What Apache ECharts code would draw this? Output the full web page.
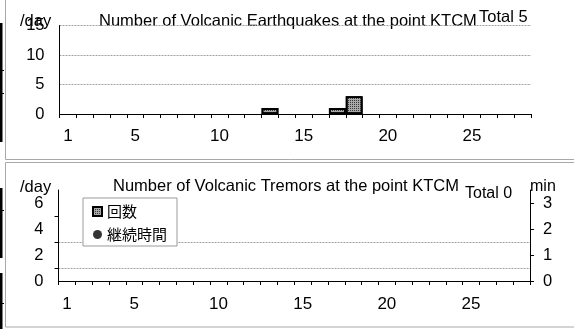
<!DOCTYPE html>
<html><head><meta charset="utf-8">
<script src="https://cdn.jsdelivr.net/npm/echarts@6/dist/echarts.min.js"></script>
<style>html,body{margin:0;padding:0;background:#fff}#c{width:574px;height:329px}</style>
</head><body><div id="c"></div>
<script>
// ---- data ----
const days = ['1','2','3','4','5','6','7','8','9','10','11','12','13','14','15','16','17','18','19','20','21','22','23','24','25','26','27','28'];
const dayLabels = ['1','5','10','15','20','25'];
const quakeCounts = [0,0,0,0,0,0,0,0,0,0,0,0,1,0,0,0,1,3,0,0,0,0,0,0,0,0,0,0];
const tremorCounts = [0,0,0,0,0,0,0,0,0,0,0,0,0,0,0,0,0,0,0,0,0,0,0,0,0,0,0,0];
const tremorMinutes = [null,null,null,null,null,null,null,null,null,null,null,null,null,null,null,null,null,null,null,null,null,null,null,null,null,null,null,null];
const quakeAxisTicks = [0,5,10,15];
const tremorAxisLabels = [0,2,4,6];
const tremorAxisMinor = [1,3,5];
const minuteAxisLabels = [0,1,2,3];
const quakeTitle = 'Number of Volcanic Earthquakes at the point KTCM';
const tremorTitle = 'Number of Volcanic Tremors at the point KTCM';
const quakeTotal = 'Total 5';
const tremorTotal = 'Total 0';

// ---- styling ----
const FF = "'Liberation Sans', Arial, 'Noto Sans CJK JP', sans-serif";
const CJK = "'Noto Sans CJK JP', 'Liberation Sans', sans-serif";
const DECAL = {symbol:'rect', symbolSize:1, color:'#3a3a3a', dashArrayX:[1,1], dashArrayY:[1,1], rotation:0};
const barStyle = {color:'#a8a8a8', borderColor:'#000', borderWidth:1.8, decal:DECAL};
const gridLine = {show:true, lineStyle:{color:'#a0a0a0', width:1, type:[2,1]}};

function xAx(gi, margin){
  return {type:'category', gridIndex:gi, data:days, boundaryGap:true,
    axisLine:{show:true, lineStyle:{color:'#000', width:1}},
    axisTick:{show:true, interval:0, length:4, lineStyle:{color:'#000'}},
    axisLabel:{interval:(i,v)=>dayLabels.includes(v), margin:margin, color:'#000', fontSize:17, fontFamily:FF},
    splitLine:{show:false}};
}
const nz = a => a.map(v => v === 0 ? null : v);

const chart = echarts.init(document.getElementById('c'), null, {renderer:'canvas'});
chart.setOption({
  animation:false,
  backgroundColor:'#fff',
  textStyle:{fontFamily:FF, color:'#000'},
  grid:[
    {left:59.5, right:43, top:25.5, bottom:215},
    {left:58.5, right:44, top:190, bottom:48}
  ],
  xAxis:[xAx(0,14), xAx(1,15)],
  yAxis:[
    {type:'value', gridIndex:0, min:quakeAxisTicks[0], max:quakeAxisTicks[3], interval:5,
      axisLine:{show:true, lineStyle:{color:'#000'}}, axisTick:{show:false},
      axisLabel:{margin:15, color:'#000', fontSize:16.5, fontFamily:FF, customValues:quakeAxisTicks},
      splitLine:gridLine},
    {type:'value', gridIndex:1, min:0, max:7, interval:2,
      axisLine:{show:true, lineStyle:{color:'#000'}},
      axisTick:{show:true, length:4, customValues:tremorAxisMinor, lineStyle:{color:'#000'}},
      axisLabel:{margin:15, color:'#000', fontSize:16.5, fontFamily:FF, customValues:tremorAxisLabels},
      splitLine:Object.assign({showMaxLine:false}, gridLine)},
    {type:'value', gridIndex:1, position:'right', min:0, max:3.5, interval:1,
      axisLine:{show:true, lineStyle:{color:'#000'}},
      axisTick:{show:true, length:4, customValues:minuteAxisLabels, lineStyle:{color:'#000'}},
      axisLabel:{margin:13, color:'#000', fontSize:16.5, fontFamily:FF, customValues:minuteAxisLabels},
      splitLine:{show:false}}
  ],
  legend:{
    left:83, top:198, orient:'vertical',
    backgroundColor:'#fff', borderColor:'#9a9a9a', borderWidth:1,
    padding:[6,10,4,9], itemGap:8, itemWidth:9, itemHeight:9,
    textStyle:{fontFamily:CJK, fontSize:15, color:'#000', lineHeight:15},
    data:[{name:'回数', icon:'rect'},
          {name:'継続時間', icon:'path://M5,0A5,5,0,1,1,5,10A5,5,0,1,1,5,0Z'}]
  },
  series:[
    {name:'地震回数', type:'bar', xAxisIndex:0, yAxisIndex:0, data:nz(quakeCounts), barCategoryGap:'0%', itemStyle:barStyle},
    {name:'回数', type:'bar', xAxisIndex:1, yAxisIndex:1, data:nz(tremorCounts), barCategoryGap:'0%', itemStyle:barStyle},
    {name:'継続時間', type:'scatter', xAxisIndex:1, yAxisIndex:2, data:tremorMinutes, symbol:'circle', symbolSize:9,
      itemStyle:{color:'#000'}}
  ],
  graphic:[
    // panel frames
    {type:'rect', silent:true, z:-1, shape:{x:5.5, y:-5, width:620, height:164.5}, style:{fill:null, stroke:'#a8a8a8', lineWidth:1}},
    {type:'rect', silent:true, z:-1, shape:{x:5.5, y:162.5, width:620, height:164.5}, style:{fill:null, stroke:'#a8a8a8', lineWidth:1}},
    // left-edge marks
    {type:'rect', silent:true, shape:{x:0, y:23, width:2.5, height:119}, style:{fill:'#000'}},
    {type:'rect', silent:true, shape:{x:2, y:70, width:2, height:1}, style:{fill:'#000'}},
    {type:'rect', silent:true, shape:{x:2, y:93, width:2, height:1}, style:{fill:'#000'}},
    {type:'rect', silent:true, shape:{x:0, y:188, width:2.5, height:70}, style:{fill:'#000'}},
    {type:'rect', silent:true, shape:{x:2, y:210, width:2, height:1}, style:{fill:'#000'}},
    {type:'rect', silent:true, shape:{x:0, y:273, width:2.5, height:60}, style:{fill:'#000'}},
    {type:'rect', silent:true, shape:{x:2, y:303, width:2, height:1}, style:{fill:'#000'}},
    // texts
    {type:'text', style:{text:quakeTitle, x:99, y:21, fill:'#000', fontSize:16.5, fontFamily:FF, verticalAlign:'middle'}},
    {type:'text', style:{text:quakeTotal, x:479, y:17, fill:'#000', fontSize:16.5, fontFamily:FF, verticalAlign:'middle'}},
    {type:'text', style:{text:'/day', x:20, y:21, fill:'#000', fontSize:16.5, fontFamily:FF, verticalAlign:'middle'}},
    {type:'text', style:{text:tremorTitle, x:113, y:186, fill:'#000', fontSize:16.5, fontFamily:FF, verticalAlign:'middle'}},
    {type:'text', style:{text:tremorTotal, x:465, y:194, fill:'#000', fontSize:16, fontFamily:FF, verticalAlign:'middle'}},
    {type:'text', style:{text:'/day', x:20, y:187.5, fill:'#000', fontSize:16.5, fontFamily:FF, verticalAlign:'middle'}},
    {type:'text', style:{text:'min', x:530, y:186.5, fill:'#000', fontSize:16, fontFamily:FF, verticalAlign:'middle'}}
  ]
});
</script>
</body></html>
